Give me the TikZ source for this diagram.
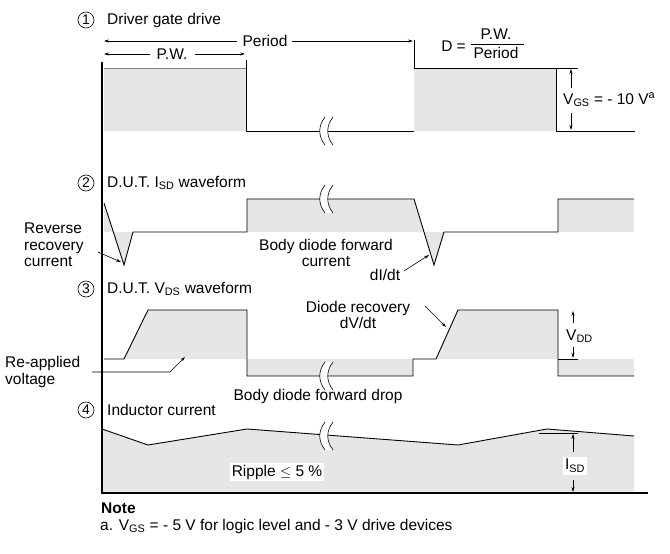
\documentclass[tikz,border=0pt]{standalone}
\usepackage{fontspec}
\setmainfont{Liberation Sans}
\usetikzlibrary{arrows.meta}
\definecolor{wg}{HTML}{E6E6E6}
\begin{document}
\begin{tikzpicture}[x=1pt,y=-1pt,
  txt/.style={font=\fontsize{15.5}{16.5}\selectfont,inner sep=0pt},
  num/.style={circle,draw,line width=0.6pt,inner sep=0.5pt,minimum size=16pt,font=\fontsize{14}{15}\selectfont},
  wave/.style={line width=0.9pt},
  dim/.style={line width=0.6pt,-{Stealth[length=5pt,width=3pt]}},
  brk/.style={line width=0.6pt}]
\useasboundingbox (0,0) rectangle (670,554);
% fills
\fill[wg] (104,68) rectangle (246,131);
\fill[wg] (414,68) rectangle (556,131);
\fill[wg] (104,203) -- (124,265) -- (133,232) -- (104,232) -- cycle;
\fill[wg] (247,199) rectangle (414,232);
\fill[wg] (414,199) -- (434,265) -- (444,232) -- (414,232) -- cycle;
\fill[wg] (558,199) rectangle (634,232);
\fill[wg] (124,359) -- (148,310) -- (247,310) -- (247,359) -- cycle;
\fill[wg] (247,359) rectangle (413,376);
\fill[wg] (436,359) -- (458,310) -- (558,310) -- (558,359) -- cycle;
\fill[wg] (558,359) rectangle (634,376);
\fill[wg] (102,429) -- (148,445) -- (247,429) -- (458,445) -- (547,429) -- (634,436) -- (634,493) -- (102,493) -- cycle;
% waveform 1
\draw[wave,gray] (104,68) -- (246,68);
\draw[wave] (246,60) -- (246,131) -- (414,131);
\draw[wave] (414,40) -- (414,68) -- (556,68) -- (556,131) -- (635,131);
% waveform 2
\draw[wave] (104,203) -- (124,265) -- (133,232) -- (247,232) -- (247,199) -- (414,199) -- (434,265) -- (444,232) -- (558,232) -- (558,199) -- (634,199);
% waveform 3
\draw[wave] (104,359) -- (124,359) -- (148,310) -- (247,310) -- (247,376) -- (413,376) -- (413,359) -- (436,359) -- (458,310) -- (558,310) -- (558,376) -- (634,376);
% waveform 4
\draw[wave] (102,429) -- (148,445) -- (247,429) -- (458,445) -- (547,429) -- (634,436);
% breaks
\foreach \y in {131,199,376,436}{
  \fill[white] (325,\y-14) .. controls (318,\y-5) and (318,\y+5) .. (325,\y+14) -- (333,\y+14) .. controls (326,\y+5) and (326,\y-5) .. (333,\y-14) -- cycle;
  \draw[brk] (325,\y-14) .. controls (318,\y-5) and (318,\y+5) .. (325,\y+14);
  \draw[brk] (333,\y-14) .. controls (326,\y-5) and (326,\y+5) .. (333,\y+14);
}
% axes
\draw[line width=2.6pt] (102,62) -- (102,493) -- (648,493);
% dimension arrows
\draw[dim] (237,41) -- (104,41);
\draw[dim] (292,41) -- (413,41);
\node[txt] (period) at (265,41) {Period};
\draw[dim] (150,54) -- (104,54);
\draw[dim] (195,54) -- (245,54);
\node[txt] (pw) at (172,54) {P.W.};
\node[txt,anchor=east] (d) at (466,46) {D =};
\node[txt] (dn) at (496,34) {P.W.};
\node[txt] (dd) at (496,53) {Period};
\draw[line width=0.6pt] (471,44) -- (524,44);
\draw[line width=0.6pt] (556,68) -- (578,68);
\draw[dim] (571,88) -- (571,69);
\draw[dim] (571,113) -- (571,130);
\node[txt,anchor=west,fill=white,inner sep=1pt] (vgs) at (562,100) {V\textsubscript{GS} = - 10 V\textsuperscript{a}};
\draw[line width=0.6pt] (558,359) -- (578,359);
\draw[dim] (573,323) -- (573,311);
\draw[dim] (573,347) -- (573,358);
\node[txt,anchor=west] (vdd) at (566,336) {V\textsubscript{DD}};
\draw[line width=0.6pt] (539,433) -- (578,433);
\draw[dim] (573,452) -- (573,434);
\draw[dim] (573,480) -- (573,492);
\node[txt,fill=white,inner sep=2pt] (isd) at (575,466) {I\textsubscript{SD}};
% titles
\node[num] (n1) at (86,20) {1};
\node[txt,anchor=west] (t1) at (107,20) {Driver gate drive};
\node[num] (n2) at (86,183) {2};
\node[txt,anchor=west] (t2) at (107,183) {D.U.T. I\textsubscript{SD} waveform};
\node[num] (n3) at (86,289) {3};
\node[txt,anchor=west] (t3) at (107,289) {D.U.T. V\textsubscript{DS} waveform};
\node[num] (n4) at (86,410) {4};
\node[txt,anchor=west] (t4) at (107,410) {Inductor current};
% labels
\node[txt,align=left,anchor=west] (rrc) at (24,245) {Reverse\\recovery\\current};
\coordinate (rra) at (121,262);
\draw[dim] (98,252) -- (rra);
\node[txt,align=center] (bdf) at (326,253) {Body diode forward\\current};
\node[txt] (didt) at (385,275) {dI/dt};
\coordinate (dia) at (429,255);
\draw[dim] (404,271) -- (dia);
\node[txt,align=center] (drv) at (358,315) {Diode recovery\\dV/dt};
\coordinate (dra) at (446,327);
\draw[dim] (425,306) -- (dra);
\node[txt,align=left,anchor=west] (rav) at (5,372) {Re-applied\\voltage};
\coordinate (raa) at (185,357);
\draw[dim] (92,372) -- (170,372) -- (raa);
\node[txt] (bdd) at (318,396) {Body diode forward drop};
\node[txt,fill=white,inner sep=2pt] (rip) at (277,472) {Ripple $\le$ 5 \%};
\node[txt,anchor=west] (note) at (101,508) {\textbf{Note}};
\node[txt,anchor=west] (na) at (100,526) {a. V\textsubscript{GS} = - 5 V for logic level and - 3 V drive devices};
\end{tikzpicture}
\end{document}
